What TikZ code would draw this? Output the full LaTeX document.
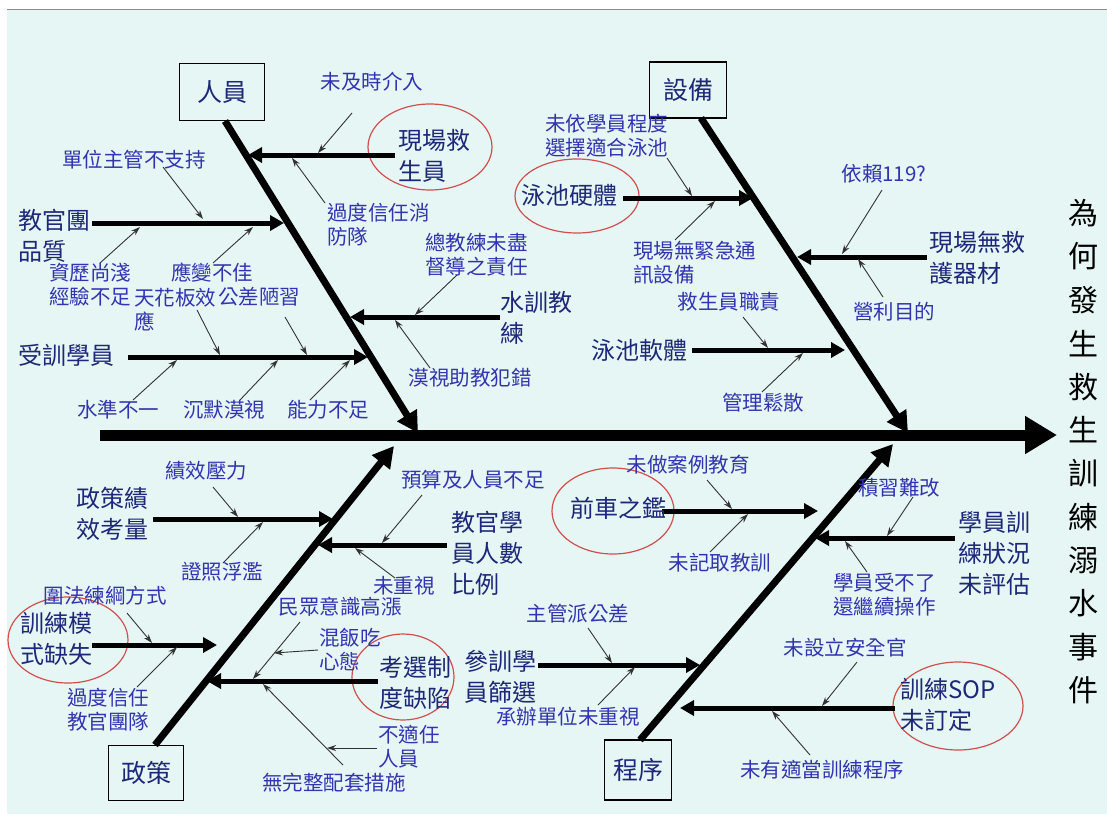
\documentclass[tikz,border=0pt]{standalone}
\usepackage{fontspec}
\setmainfont{Noto Sans CJK TC}
\usetikzlibrary{arrows.meta,shapes.geometric}
\definecolor{bgc}{HTML}{E6F6F4}
\definecolor{mainc}{HTML}{1E2878}
\definecolor{minc}{HTML}{3434B0}
\definecolor{redc}{HTML}{D05050}
\tikzset{
 mainlbl/.style={inner sep=0pt, text=mainc, font=\fontsize{24}{31}\selectfont, align=left},
 minlbl/.style={inner sep=0pt, text=minc, font=\fontsize{20.5}{24}\selectfont, align=left},
 catbox/.style={draw=black, line width=1.3pt, inner sep=0pt, font=\fontsize{25}{30}\selectfont, text=mainc},
 titlech/.style={inner sep=0pt, font=\fontsize{30}{30}\selectfont, text=black},
 spine/.style={line width=11pt, -{Triangle[length=32pt,width=36pt]}},
 bone/.style={line width=7pt, -{Triangle[length=21pt,width=22pt]}},
 branch/.style={line width=5pt, -{Triangle[length=14pt,width=15pt]}},
 twig/.style={line width=0.9pt, draw=black!80, -{Stealth[length=9pt,width=6pt]}},
 cloud/.style={ellipse, draw=redc, line width=1.2pt, inner sep=0pt},
}
\begin{document}
\begin{tikzpicture}[x=1pt,y=-1pt]
\useasboundingbox (0,0) rectangle (1107,814);
\fill[white] (0,0) rectangle (1107,814);
\fill[bgc] (7,10) rectangle (1107,814);
\draw[line width=1.5pt, black!45] (7,9.5) -- (1107,9.5);

% red ellipses
\node[cloud, minimum width=124pt, minimum height=86pt] (e1) at (430,147) {};
\node[cloud, minimum width=124pt, minimum height=74pt] (e2) at (577,196) {};
\node[cloud, minimum width=120pt, minimum height=86pt] (e3) at (68,640) {};
\node[cloud, minimum width=102pt, minimum height=86pt] (e4) at (403,677) {};
\node[cloud, minimum width=122pt, minimum height=86pt] (e5) at (613,511) {};
\node[cloud, minimum width=130pt, minimum height=88pt] (e6) at (958,706) {};

% category boxes
\node[catbox, minimum width=85pt, minimum height=57pt] (b1) at (222,92) {人員};
\node[catbox, minimum width=77pt, minimum height=56pt] (b2) at (688,90) {設備};
\node[catbox, minimum width=75pt, minimum height=55pt] (b3) at (146,773) {政策};
\node[catbox, minimum width=67pt, minimum height=60pt] (b4) at (638,770) {程序};

% spine and bones
\coordinate (sp0) at (100,435); \coordinate (sp1) at (1057,435);
\coordinate (p1s) at (225,121); \coordinate (p1e) at (418,433);
\coordinate (p2s) at (701,118); \coordinate (p2e) at (908,433);
\coordinate (p3s) at (155,745); \coordinate (p3e) at (394,446);
\coordinate (p4s) at (640,740); \coordinate (p4e) at (893,444);
\draw[spine] (sp0) -- (sp1);
\draw[bone] (p1s) -- (p1e);
\draw[bone] (p2s) -- (p2e);
\draw[bone] (p3s) -- (p3e);
\draw[bone] (p4s) -- (p4e);

% branches
\coordinate (r1s) at (395,155); \coordinate (r1e) at (248,155);
\coordinate (r2s) at (92,223);  \coordinate (r2e) at (284,223);
\coordinate (r3s) at (128,357); \coordinate (r3e) at (368,357);
\coordinate (r4s) at (500,317); \coordinate (r4e) at (350,317);
\coordinate (r5s) at (623,198); \coordinate (r5e) at (753,198);
\coordinate (r6s) at (927,257); \coordinate (r6e) at (797,257);
\coordinate (r7s) at (692,350); \coordinate (r7e) at (845,350);
\coordinate (r8s) at (153,519); \coordinate (r8e) at (333,519);
\coordinate (r9s) at (447,545); \coordinate (r9e) at (318,545);
\coordinate (r10s) at (92,645); \coordinate (r10e) at (217,645);
\coordinate (r11s) at (378,681); \coordinate (r11e) at (207,681);
\coordinate (r12s) at (662,511); \coordinate (r12e) at (818,511);
\coordinate (r13s) at (955,538); \coordinate (r13e) at (815,538);
\coordinate (r14s) at (538,665); \coordinate (r14e) at (700,665);
\coordinate (r15s) at (895,708); \coordinate (r15e) at (680,708);
\foreach \i in {1,...,15} \draw[branch] (r\i s) -- (r\i e);

% twigs
\foreach \n/\a/\b/\c/\d in {
 1/352/113/318/153, 2/325/203/292/158, 3/163/167/203/219, 4/100/263/140/227,
 5/213/263/253/227, 6/197/310/220/355, 7/285/317/307/355, 8/133/400/177/360,
 9/240/400/278/360, 10/310/400/350/360, 11/457/275/415/315, 12/430/368/395/320,
 13/667/158/692/196, 14/675/240/715/201, 15/743/317/768/348, 16/762/392/803/353,
 17/882/190/842/254, 18/883/297/858/259, 19/213/487/238/517, 20/223/563/263/522,
 21/422/495/382/543, 22/395/578/355/548, 23/300/622/253/679, 24/318/650/274/653,
 25/377/748/327/748, 26/343/765/263/684, 27/127/613/152/643, 28/137/687/177/647,
 29/707/480/732/509, 30/710/552/748/514, 31/913/497/887/536, 32/867/572/845/541,
 33/588/628/612/663, 34/598/705/635/667, 35/857/662/822/706, 36/810/755/772/711}
 {\coordinate (w\n s) at (\a,\b); \coordinate (w\n e) at (\c,\d); \draw[twig] (w\n s) -- (w\n e);}

% main labels
\node[mainlbl, anchor=west] (m1) at (398,156) {現場救\\生員};
\node[mainlbl, anchor=west] (m2) at (18,236) {教官團\\品質};
\node[mainlbl, anchor=west] (m3) at (18,355) {受訓學員};
\node[mainlbl, anchor=west] (m4) at (500,318) {水訓教\\練};
\node[mainlbl] (m5) at (569,195) {泳池硬體};
\node[mainlbl, anchor=west] (m6) at (929,258) {現場無救\\護器材};
\node[mainlbl] (m7) at (639,350) {泳池軟體};
\node[mainlbl, anchor=west] (m8) at (76,514) {政策績\\效考量};
\node[mainlbl, anchor=west] (m9) at (451,553) {教官學\\員人數\\比例};
\node[mainlbl, anchor=west] (m10) at (20,639) {訓練模\\式缺失};
\node[mainlbl, anchor=west] (m11) at (379,683) {考選制\\度缺陷};
\node[mainlbl] (m12) at (618,508) {前車之鑑};
\node[mainlbl, anchor=west] (m13) at (958,553) {學員訓\\練狀況\\未評估};
\node[mainlbl, anchor=west] (m14) at (464,677) {參訓學\\員篩選};
\node[mainlbl, anchor=west] (m15) at (900,705) {訓練SOP\\未訂定};

% minor labels
\node[minlbl] (n1) at (372,82) {未及時介入};
\node[minlbl, anchor=west] (n2) at (327,225) {過度信任消\\防隊};
\node[minlbl] (n3) at (134,160) {單位主管不支持};
\node[minlbl, anchor=west] (n4) at (49,285) {資歷尚淺\\經驗不足};
\node[minlbl, anchor=west] (n5) at (171,273) {應變不佳};
\node[minlbl, anchor=west] (n6) at (134,310) {天花板效\\應};
\node[minlbl, anchor=west] (n7) at (218,297) {公差陋習};
\node[minlbl] (n8) at (118,410) {水準不一};
\node[minlbl] (n9) at (224,410) {沉默漠視};
\node[minlbl] (n10) at (328,410) {能力不足};
\node[minlbl, anchor=west] (n11) at (425,255) {總教練未盡\\督導之責任};
\node[minlbl] (n12) at (470,378) {漠視助教犯錯};
\node[minlbl, anchor=west] (n13) at (545,136) {未依學員程度\\選擇適合泳池};
\node[minlbl, anchor=west] (n14) at (633,263) {現場無緊急通\\訊設備};
\node[minlbl] (n15) at (729,302) {救生員職責};
\node[minlbl] (n16) at (763,403) {管理鬆散};
\node[minlbl] (n17) at (884,174) {依賴119?};
\node[minlbl] (n18) at (894,312) {營利目的};
\node[minlbl] (n19) at (206,471) {績效壓力};
\node[minlbl] (n20) at (222,572) {證照浮濫};
\node[minlbl] (n21) at (473,480) {預算及人員不足};
\node[minlbl] (n22) at (404,586) {未重視};
\node[minlbl] (n23) at (340,607) {民眾意識高漲};
\node[minlbl, anchor=west] (n24) at (319,649) {混飯吃\\心態};
\node[minlbl, anchor=west] (n25) at (378,747) {不適任\\人員};
\node[minlbl] (n26) at (334,783) {無完整配套措施};
\node[minlbl] (n27) at (105,596) {圍法練綱方式};
\node[minlbl, anchor=west] (n28) at (67,710) {過度信任\\教官團隊};
\node[minlbl] (n29) at (688,465) {未做案例教育};
\node[minlbl] (n30) at (720,563) {未記取教訓};
\node[minlbl] (n31) at (899,488) {積習難改};
\node[minlbl, anchor=west] (n32) at (833,595) {學員受不了\\還繼續操作};
\node[minlbl] (n33) at (578,614) {主管派公差};
\node[minlbl] (n34) at (568,717) {承辦單位未重視};
\node[minlbl] (n35) at (845,648) {未設立安全官};
\node[minlbl] (n36) at (822,770) {未有適當訓練程序};

% effect (vertical title)
\foreach \c [count=\i] in {為,何,發,生,救,生,訓,練,溺,水,事,件}
  \node[titlech] (t\i) at (1083,{213+43.4*(\i-1)}) {\c};
\end{tikzpicture}
\end{document}
